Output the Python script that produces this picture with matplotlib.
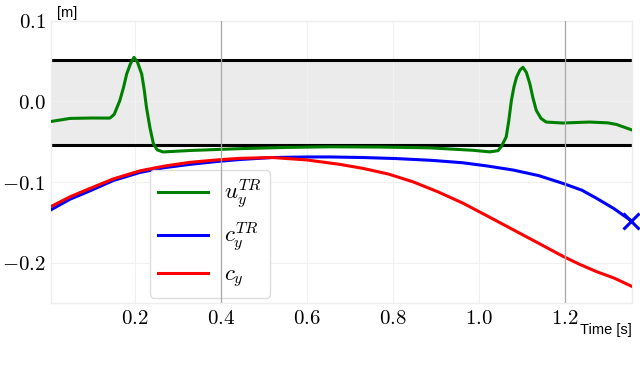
import matplotlib
matplotlib.use("Agg")
import matplotlib.pyplot as plt
import numpy as np

plt.rcParams["mathtext.fontset"] = "cm"
plt.rcParams["font.family"] = ["Liberation Sans", "DejaVu Sans"]

# u_y^TR (green)
u_t = [0.006, 0.049, 0.10, 0.142, 0.152, 0.165, 0.174, 0.181, 0.190, 0.198, 0.206,
       0.216, 0.222, 0.227, 0.235, 0.243, 0.252, 0.266, 0.328, 0.444, 0.55, 0.653,
       0.77, 0.886, 0.986, 1.026, 1.045, 1.053, 1.064, 1.070, 1.076, 1.082, 1.088,
       1.096, 1.103, 1.111, 1.119, 1.126, 1.134, 1.145, 1.157, 1.196, 1.258, 1.30,
       1.32, 1.355]
u_y = [-0.0247, -0.021, -0.0205, -0.0206, -0.016, 0.001, 0.018, 0.034, 0.047, 0.0547, 0.049,
       0.034, 0.014, -0.007, -0.032, -0.052, -0.060, -0.0626, -0.0608, -0.0585, -0.057, -0.0562,
       -0.0565, -0.0575, -0.0605, -0.0625, -0.061, -0.0556, -0.044, -0.024, 0.001, 0.018, 0.030,
       0.039, 0.0424, 0.036, 0.022, 0.005, -0.011, -0.021, -0.0255, -0.0267, -0.0255, -0.0265,
       -0.0284, -0.035]

# c_y^TR (blue)
cr_t = [0.006, 0.05, 0.095, 0.15, 0.212, 0.27, 0.328, 0.39, 0.444, 0.52, 0.60, 0.653,
        0.73, 0.808, 0.89, 0.963, 1.02, 1.08, 1.14, 1.196, 1.24, 1.274, 1.315, 1.355]
cr_y = [-0.134, -0.121, -0.111, -0.098, -0.088, -0.082, -0.078, -0.0745, -0.072, -0.0695,
        -0.0688, -0.0688, -0.0695, -0.0708, -0.073, -0.076, -0.080, -0.085, -0.092, -0.1016,
        -0.110, -0.120, -0.133, -0.148]

# c_y (red)
c_t = [0.006, 0.05, 0.095, 0.15, 0.212, 0.27, 0.328, 0.39, 0.444, 0.52, 0.60, 0.677, 0.731,
       0.79, 0.847, 0.905, 0.963, 1.02, 1.08, 1.14, 1.196, 1.235, 1.274, 1.315, 1.355]
c_y = [-0.130, -0.118, -0.108, -0.096, -0.086, -0.080, -0.0755, -0.0725, -0.0705, -0.0695,
       -0.0725, -0.078, -0.083, -0.090, -0.0996, -0.112, -0.126, -0.142, -0.159, -0.176,
       -0.192, -0.202, -0.211, -0.219, -0.229]

band = (-0.054, 0.052)
vlines = [0.4, 1.2]
xticks = [0.2, 0.4, 0.6, 0.8, 1.0, 1.2]
yticks = [-0.2, -0.1, 0.0, 0.1]

fig = plt.figure(figsize=(6.4, 3.66), dpi=100)
ax = fig.add_axes([0.0797, 0.172, 0.908, 0.771])

ax.axhspan(band[0], band[1], color="#ebebeb", zorder=0)
for v in band:
    ax.axhline(v, color="black", lw=2.2, zorder=2)

ax.plot(u_t, u_y, color="#008000", lw=2.2, zorder=3, label=r"$u_y^{TR}$")
ax.plot(cr_t, cr_y, color="blue", lw=2.2, zorder=3, label=r"$c_y^{TR}$")
ax.plot(c_t, c_y, color="red", lw=2.2, zorder=3, label=r"$c_y$")
ax.plot(cr_t[-1], cr_y[-1], marker="x", color="blue", ms=11, mew=2.2, zorder=4, clip_on=False)

ax.set_xlim(0.005, 1.357)
ax.set_ylim(-0.25, 0.1)
ax.set_xticks(xticks)
ax.set_xticklabels([f"${v:.1f}$" for v in xticks], fontsize=15)
ax.set_yticks(yticks)
ax.set_yticklabels([f"${v:.1f}$" for v in yticks], fontsize=15)
ax.tick_params(length=0, pad=4)
ax.grid(color="#f0f0f0", lw=0.8, zorder=0.5)
ax.set_axisbelow(True)
for s in ax.spines.values():
    s.set_color("#eeeeee")
    s.set_linewidth(1.0)

ax.legend(loc="lower left", bbox_to_anchor=(0.17, 0.018), borderaxespad=0, fontsize=16.5,
          handlelength=2.2, labelspacing=0.4, borderpad=0.35, handletextpad=0.7,
          framealpha=1.0, edgecolor="#dddddd", fancybox=True)

# the time markers sit on top of everything, legend included
for v in vlines:
    ax.axvline(v, color="#a8a8a8", lw=0.9, zorder=6)

fig.text(0.089, 0.965, "[m]", fontsize=10.5, ha="left", va="center")
fig.text(0.9875, 0.098, "Time [s]", fontsize=10.5, ha="right", va="center")

fig.savefig("out.png", dpi=100)
